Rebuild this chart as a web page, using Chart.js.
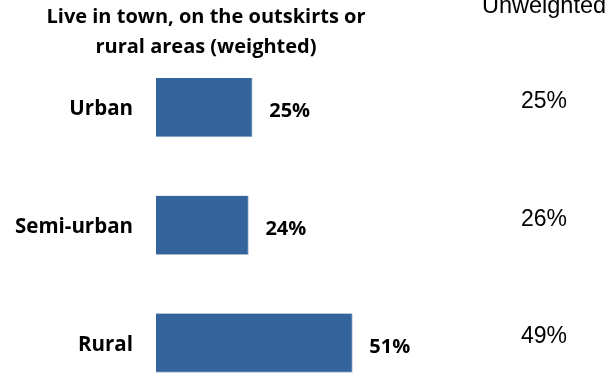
<!DOCTYPE html>
<html>
<head>
<meta charset="utf-8">
<script src="https://cdn.jsdelivr.net/npm/chart.js@4.4.1/dist/chart.umd.min.js"></script>
<style>
  html, body { margin: 0; padding: 0; background: #fff; }
  #wrap { width: 613px; height: 374px; position: relative; }
</style>
</head>
<body>
<div id="wrap"><canvas id="myChart"></canvas></div>
<script>
// data
const categories = ['Urban', 'Semi-urban', 'Rural'];
const weighted = [25, 24, 51];
const unweighted = [25, 26, 49];
const titleLines = ['Live in town, on the outskirts or', 'rural areas (weighted)'];
const unweightedTitle = 'Unweighted';

const boldFont = '"Open Sans", "DejaVu Sans", sans-serif';

// draws the title, the bar value labels and the unweighted column
const labelsPlugin = {
  id: 'labelsPlugin',
  afterDatasetsDraw(chart) {
    const ctx = chart.ctx;
    const meta = chart.getDatasetMeta(0);
    ctx.save();
    ctx.fillStyle = '#000';

    // title (two lines)
    ctx.font = 'bold 20px ' + boldFont;
    ctx.textAlign = 'center';
    ctx.textBaseline = 'alphabetic';
    ctx.fillText(titleLines[0], 206, 23);
    ctx.fillText(titleLines[1], 206, 53);

    // unweighted header
    ctx.font = '23.5px "Liberation Sans", Arial, sans-serif';
    ctx.fillText(unweightedTitle, 544, 13);

    meta.data.forEach((bar, i) => {
      // weighted value next to the bar
      ctx.font = 'bold 20px ' + boldFont;
      ctx.textAlign = 'left';
      ctx.textBaseline = 'middle';
      ctx.fillText(weighted[i] + '%', bar.x + 17, bar.y + 4);

      // unweighted value in the right column
      ctx.font = '23px "Liberation Sans", Arial, sans-serif';
      ctx.textAlign = 'center';
      ctx.fillText(unweighted[i] + '%', 544, bar.y - 6);
    });
    ctx.restore();
  }
};

const ctx = document.getElementById('myChart').getContext('2d');
new Chart(ctx, {
  type: 'bar',
  data: {
    labels: categories,
    datasets: [{
      label: 'Weighted',
      data: weighted,
      backgroundColor: '#33649b',
      borderColor: '#a4b8d0',
      borderWidth: { top: 0, left: 0, right: 1, bottom: 1 },
      borderSkipped: false,
      barThickness: 59,
      clip: false
    }]
  },
  options: {
    indexAxis: 'y',
    responsive: true,
    maintainAspectRatio: false,
    animation: false,
    layout: {
      padding: { left: 0, right: 226, top: 107.5, bottom: 31 }
    },
    plugins: {
      legend: { display: false },
      title: { display: false },
      tooltip: { enabled: false }
    },
    scales: {
      x: {
        display: false,
        min: 0,
        max: 60
      },
      y: {
        offset: false,
        grid: { display: false, drawTicks: false },
        border: { display: false },
        ticks: {
          color: '#000',
          padding: 23,
          labelOffset: 2,
          font: { family: boldFont, size: 20.5, weight: 'bold' }
        },
        afterFit(scale) {
          scale.width = 156;
          // tick padding gets added to the top/bottom overflow, drop it
          scale.paddingTop = 0;
          scale.paddingBottom = 0;
        }
      }
    }
  },
  plugins: [labelsPlugin]
});
</script>
</body>
</html>
